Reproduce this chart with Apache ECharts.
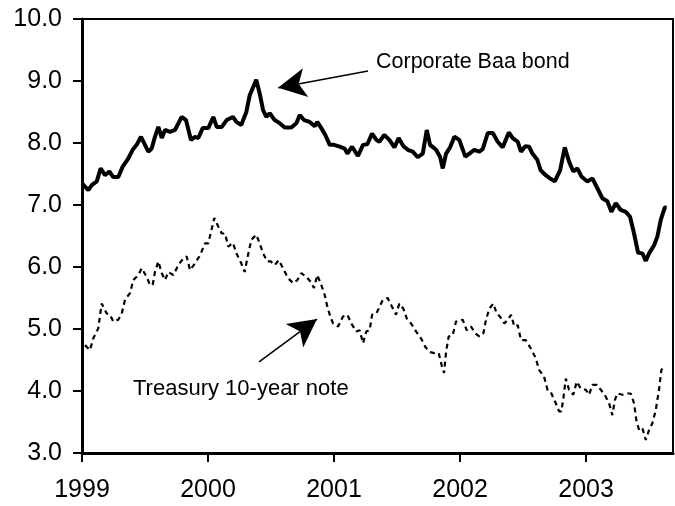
<!DOCTYPE html>
<html>
<head>
<meta charset="utf-8">
<script src="https://cdn.jsdelivr.net/npm/echarts@6/dist/echarts.min.js"></script>
<style>
  html, body { margin: 0; padding: 0; background: #fff; }
  #chart { width: 675px; height: 506px; }
</style>
</head>
<body>
<div id="chart"></div>
<script>
// weekly-ish readings, x in decimal years
const corpYears = [
  1999.000, 1999.050, 1999.077, 1999.117, 1999.148, 1999.183, 1999.217, 1999.248, 1999.288, 1999.323,
  1999.367, 1999.402, 1999.434, 1999.468, 1999.500, 1999.526, 1999.553, 1999.579, 1999.606, 1999.633,
  1999.659, 1999.698, 1999.738, 1999.791, 1999.825, 1999.865, 1999.897, 1999.923, 1999.958, 2000.002,
  2000.042, 2000.069, 2000.109, 2000.148, 2000.198, 2000.225, 2000.264, 2000.304, 2000.331, 2000.383,
  2000.410, 2000.437, 2000.463, 2000.490, 2000.529, 2000.569, 2000.609, 2000.661, 2000.701, 2000.728,
  2000.762, 2000.807, 2000.847, 2000.867, 2000.899, 2000.931, 2000.966, 2001.000, 2001.045, 2001.085,
  2001.106, 2001.143, 2001.190, 2001.230, 2001.264, 2001.302, 2001.336, 2001.360, 2001.399, 2001.439,
  2001.479, 2001.513, 2001.550, 2001.585, 2001.625, 2001.664, 2001.704, 2001.736, 2001.762, 2001.810,
  2001.841, 2001.863, 2001.889, 2001.921, 2001.955, 2001.994, 2002.042, 2002.074, 2002.113, 2002.153,
  2002.180, 2002.220, 2002.260, 2002.299, 2002.339, 2002.387, 2002.418, 2002.458, 2002.484, 2002.518,
  2002.548, 2002.574, 2002.613, 2002.640, 2002.680, 2002.714, 2002.752, 2002.794, 2002.831, 2002.865,
  2002.899, 2002.931, 2002.963, 2003.010, 2003.050, 2003.090, 2003.129, 2003.169, 2003.201, 2003.236,
  2003.275, 2003.315, 2003.349, 2003.381, 2003.413, 2003.447, 2003.474, 2003.500, 2003.540, 2003.566,
  2003.593, 2003.625, 2003.640
];
const corpRates = [
  7.35, 7.24, 7.32, 7.38, 7.59, 7.48, 7.54, 7.45, 7.45, 7.62,
  7.75, 7.89, 7.97, 8.10, 7.97, 7.86, 7.91, 8.10, 8.26, 8.08,
  8.21, 8.18, 8.21, 8.42, 8.37, 8.05, 8.10, 8.08, 8.24, 8.24,
  8.42, 8.26, 8.26, 8.37, 8.42, 8.34, 8.29, 8.50, 8.77, 9.02,
  8.80, 8.53, 8.42, 8.48, 8.37, 8.32, 8.25, 8.25, 8.32, 8.45,
  8.37, 8.34, 8.27, 8.34, 8.24, 8.13, 7.97, 7.97, 7.94, 7.91,
  7.83, 7.94, 7.79, 7.97, 7.98, 8.15, 8.05, 8.02, 8.13, 8.05,
  7.93, 8.08, 7.95, 7.89, 7.86, 7.77, 7.83, 8.21, 7.97, 7.89,
  7.78, 7.59, 7.83, 7.93, 8.10, 8.05, 7.78, 7.83, 7.89, 7.86,
  7.90, 8.16, 8.16, 8.02, 7.93, 8.17, 8.08, 8.02, 7.86, 7.95,
  7.94, 7.83, 7.73, 7.56, 7.48, 7.43, 7.38, 7.56, 7.93, 7.70,
  7.54, 7.59, 7.46, 7.38, 7.43, 7.27, 7.11, 7.06, 6.89, 7.03,
  6.92, 6.89, 6.81, 6.54, 6.23, 6.22, 6.10, 6.22, 6.35, 6.49,
  6.76, 6.96, 6.96
];
const tsyYears = [
  1999.024, 1999.063, 1999.090, 1999.129, 1999.156, 1999.196, 1999.222, 1999.248, 1999.288, 1999.315,
  1999.341, 1999.381, 1999.407, 1999.447, 1999.474, 1999.513, 1999.540, 1999.561, 1999.579, 1999.606,
  1999.633, 1999.659, 1999.685, 1999.725, 1999.764, 1999.804, 1999.831, 1999.857, 1999.897, 1999.937,
  1999.976, 2000.002, 2000.024, 2000.050, 2000.082, 2000.109, 2000.135, 2000.161, 2000.198, 2000.225,
  2000.264, 2000.291, 2000.317, 2000.344, 2000.383, 2000.410, 2000.437, 2000.471, 2000.498, 2000.529,
  2000.561, 2000.595, 2000.635, 2000.675, 2000.709, 2000.740, 2000.780, 2000.815, 2000.841, 2000.867,
  2000.899, 2000.926, 2000.947, 2000.966, 2000.992, 2001.032, 2001.071, 2001.106, 2001.137, 2001.177,
  2001.204, 2001.230, 2001.256, 2001.283, 2001.302, 2001.336, 2001.387, 2001.426, 2001.460, 2001.492,
  2001.518, 2001.550, 2001.577, 2001.611, 2001.651, 2001.690, 2001.725, 2001.756, 2001.796, 2001.831,
  2001.857, 2001.873, 2001.889, 2001.910, 2001.942, 2001.968, 2002.021, 2002.053, 2002.087, 2002.121,
  2002.153, 2002.185, 2002.206, 2002.233, 2002.264, 2002.291, 2002.317, 2002.352, 2002.379, 2002.405,
  2002.431, 2002.458, 2002.484, 2002.521, 2002.561, 2002.601, 2002.627, 2002.667, 2002.698, 2002.725,
  2002.760, 2002.786, 2002.804, 2002.820, 2002.839, 2002.865, 2002.899, 2002.926, 2002.958, 2002.998,
  2003.024, 2003.050, 2003.085, 2003.117, 2003.148, 2003.183, 2003.209, 2003.228, 2003.248, 2003.288,
  2003.328, 2003.355, 2003.381, 2003.399, 2003.421, 2003.447, 2003.474, 2003.500, 2003.526, 2003.553,
  2003.579, 2003.598, 2003.619
];
const tsyRates = [
  4.74, 4.66, 4.85, 5.01, 5.41, 5.25, 5.23, 5.12, 5.15, 5.25,
  5.47, 5.58, 5.79, 5.87, 5.98, 5.84, 5.71, 5.71, 5.92, 6.09,
  5.90, 5.79, 5.92, 5.87, 6.03, 6.14, 6.17, 5.95, 6.06, 6.19,
  6.38, 6.38, 6.57, 6.79, 6.65, 6.54, 6.54, 6.33, 6.39, 6.22,
  6.06, 5.92, 6.19, 6.44, 6.52, 6.38, 6.22, 6.09, 6.09, 6.03,
  6.11, 5.98, 5.82, 5.74, 5.79, 5.90, 5.84, 5.76, 5.66, 5.87,
  5.71, 5.55, 5.36, 5.23, 5.09, 5.04, 5.20, 5.23, 5.09, 4.96,
  4.98, 4.77, 4.96, 4.98, 5.23, 5.25, 5.47, 5.50, 5.36, 5.23,
  5.41, 5.33, 5.17, 5.09, 4.96, 4.85, 4.71, 4.63, 4.61, 4.61,
  4.39, 4.29, 4.63, 4.88, 4.90, 5.12, 5.15, 4.98, 5.04, 4.93,
  4.88, 4.93, 5.15, 5.33, 5.41, 5.25, 5.20, 5.09, 5.15, 5.23,
  5.04, 5.06, 4.82, 4.82, 4.69, 4.53, 4.34, 4.23, 3.99, 3.96,
  3.80, 3.67, 3.67, 3.88, 4.20, 4.02, 3.94, 4.15, 4.04, 4.02,
  3.94, 4.10, 4.10, 4.02, 3.94, 3.80, 3.61, 3.85, 3.96, 3.94,
  3.96, 3.96, 3.80, 3.53, 3.37, 3.40, 3.21, 3.37, 3.48, 3.69,
  4.02, 4.34, 4.42
];
const yearTicks = [1999, 2000, 2001, 2002, 2003];

const corpData = corpYears.map((y, i) => [y, corpRates[i]]);
const tsyData = tsyYears.map((y, i) => [y, tsyRates[i]]);

const font = 'Liberation Sans, Arial, sans-serif';

const arrowStyle = {
  silent: true,
  symbol: ['none', 'arrow'],
  symbolSize: [22, 28],
  label: { show: false },
  lineStyle: { color: '#000', width: 1.5, type: 'solid' }
};

const option = {
  animation: false,
  textStyle: { fontFamily: font },
  grid: {
    left: 82,
    right: 2,
    top: 19,
    bottom: 53,
    show: true,
    borderColor: '#000',
    borderWidth: 2
  },
  xAxis: {
    type: 'value',
    min: 1999,
    max: 2003.69,
    interval: 1,
    axisLine: { lineStyle: { color: '#000', width: 3 } },
    axisTick: { length: 9, lineStyle: { color: '#000', width: 2 } },
    axisLabel: {
      color: '#000',
      fontSize: 25,
      margin: 25,
      showMaxLabel: false,
      formatter: v => (yearTicks.indexOf(v) >= 0 ? String(v) : '')
    },
    splitLine: { show: false }
  },
  yAxis: {
    type: 'value',
    min: 3,
    max: 10,
    interval: 1,
    axisLine: { show: true, lineStyle: { color: '#000', width: 3 } },
    axisTick: { show: true, length: 9, lineStyle: { color: '#000', width: 2 } },
    axisLabel: {
      color: '#000',
      fontSize: 25,
      margin: 20,
      formatter: v => v.toFixed(1)
    },
    splitLine: { show: false }
  },
  series: [{
    type: 'line',
    name: 'Corporate Baa bond',
    data: corpData,
    showSymbol: false,
    lineStyle: { color: '#000', width: 4 },
    markLine: Object.assign({}, arrowStyle, {
      data: [[{ coord: [2001.27, 9.16] }, { coord: [2000.556, 8.89] }]]
    })
  }, {
    type: 'line',
    name: 'Treasury 10-year note',
    data: tsyData,
    showSymbol: false,
    lineStyle: { color: '#000', width: 2.2, type: [5, 4] },
    markLine: Object.assign({}, arrowStyle, {
      data: [[{ coord: [2000.405, 4.47] }, { coord: [2000.865, 5.16] }]]
    })
  }],
  graphic: [{
    type: 'text',
    left: 376,
    top: 51,
    style: { text: 'Corporate Baa bond', fontSize: 21.5, fontFamily: font, fill: '#000' }
  }, {
    type: 'text',
    left: 133,
    top: 378,
    style: { text: 'Treasury 10-year note', fontSize: 22, fontFamily: font, fill: '#000' }
  }]
};

const chart = echarts.init(document.getElementById('chart'));
chart.setOption(option);
</script>
</body>
</html>
